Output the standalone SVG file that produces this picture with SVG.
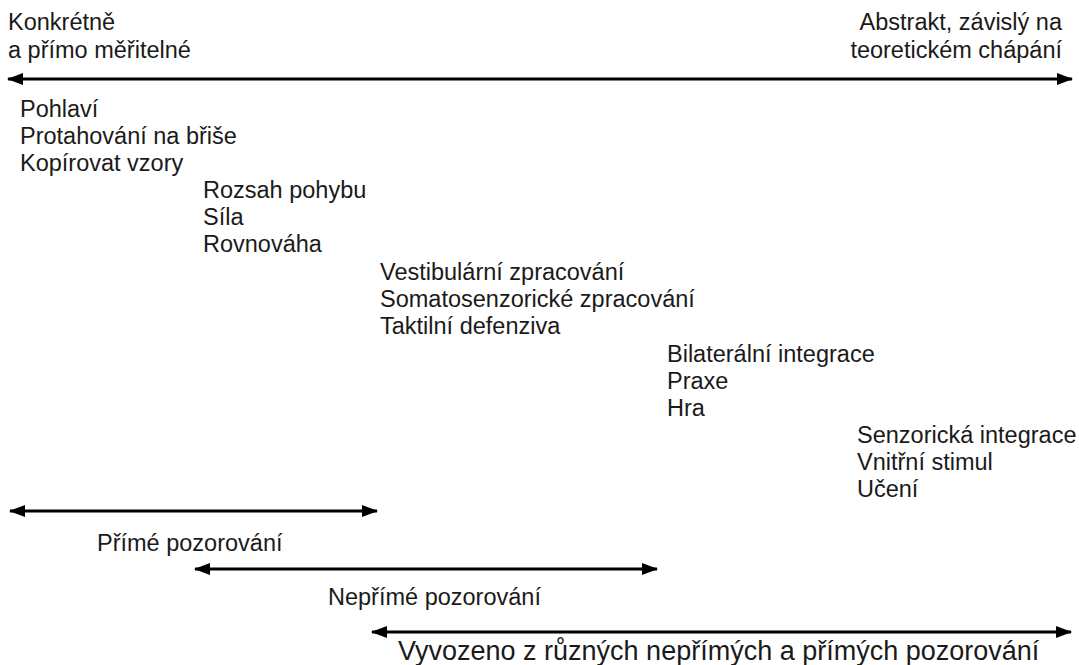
<svg xmlns="http://www.w3.org/2000/svg" width="1079" height="665" viewBox="0 0 1079 665">
<style>
text{font-family:"Liberation Sans",Arial,sans-serif;font-size:23.5px;fill:#1a1a1a}
.big{font-size:27px}
.ln{stroke:#000;stroke-width:3;fill:none}
</style>
<defs>
<marker id="ah" viewBox="0 0 16 12" refX="15" refY="6" markerWidth="16" markerHeight="12" markerUnits="userSpaceOnUse" orient="auto-start-reverse">
<path d="M0,0 L16,6 L0,12 Z" fill="#000"/>
</marker>
</defs>
<rect width="1079" height="665" fill="#fff"/>
<g id="connectors">
<line class="ln" x1="8" y1="79" x2="1072" y2="79" marker-start="url(#ah)" marker-end="url(#ah)"/>
<line class="ln" x1="10" y1="511" x2="377" y2="511" marker-start="url(#ah)" marker-end="url(#ah)"/>
<line class="ln" x1="195" y1="569" x2="657" y2="569" marker-start="url(#ah)" marker-end="url(#ah)"/>
<line class="ln" x1="372" y1="632" x2="1071" y2="632" marker-start="url(#ah)" marker-end="url(#ah)"/>
</g>
<g id="left-label"><text x="8" y="30">Konkrétně</text><text x="8" y="58">a přímo měřitelné</text></g>
<g id="right-label"><text x="1062" y="30" text-anchor="end">Abstrakt, závislý na</text><text x="1062" y="58" text-anchor="end">teoretickém chápání</text></g>
<g id="group1"><text x="20" y="117">Pohlaví</text><text x="20" y="144">Protahování na břiše</text><text x="20" y="171">Kopírovat vzory</text></g>
<g id="group2"><text x="203" y="198">Rozsah pohybu</text><text x="203" y="225">Síla</text><text x="203" y="252">Rovnováha</text></g>
<g id="group3"><text x="380" y="280">Vestibulární zpracování</text><text x="380" y="307">Somatosenzorické zpracování</text><text x="380" y="334">Taktilní defenziva</text></g>
<g id="group4"><text x="667" y="362">Bilaterální integrace</text><text x="667" y="389">Praxe</text><text x="667" y="416">Hra</text></g>
<g id="group5"><text x="857" y="443">Senzorická integrace</text><text x="857" y="470">Vnitřní stimul</text><text x="857" y="497">Učení</text></g>
<g id="label1"><text x="97" y="551">Přímé pozorování</text></g>
<g id="label2"><text x="328" y="605">Nepřímé pozorování</text></g>
<g id="label3"><text class="big" x="398" y="660">Vyvozeno z různých nepřímých a přímých pozorování</text></g>
</svg>
